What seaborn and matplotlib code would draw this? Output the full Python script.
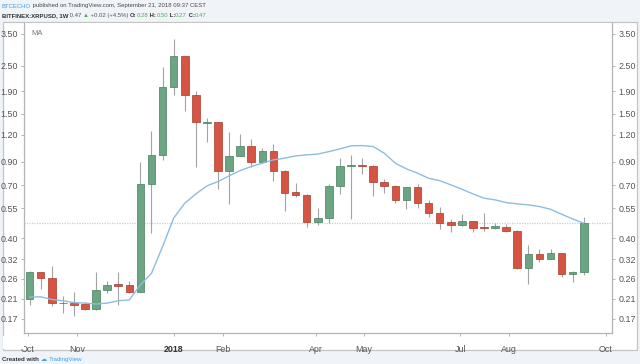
import matplotlib
matplotlib.use("Agg")
import matplotlib.pyplot as plt
from matplotlib.patches import Rectangle
import seaborn as sns
import pandas as pd

# ---------------- data ----------------
week_start = "2017-10-02"
n_weeks = 51
opens = [0.209, 0.279, 0.263, 0.202, 0.201, 0.199, 0.188, 0.231, 0.246, 0.243,
         0.227, 0.710, 0.969, 1.98, 2.78, 1.83, 1.365, 1.375, 0.817, 0.958,
         1.069, 0.896, 1.008, 0.817, 0.652, 0.636, 0.477, 0.498, 0.697, 0.862,
         0.871, 0.865, 0.727, 0.699, 0.601, 0.687, 0.582, 0.525, 0.476, 0.461,
         0.479, 0.450, 0.447, 0.453, 0.434, 0.293, 0.339, 0.321, 0.341, 0.274, 0.28]
highs = [0.282, 0.281, 0.298, 0.217, 0.227, 0.203, 0.281, 0.254, 0.281, 0.254,
         0.902, 1.250, 2.47, 3.32, 2.80, 1.90, 1.44, 1.38, 1.233, 1.207,
         1.144, 1.040, 1.089, 0.822, 0.722, 0.640, 0.554, 0.710, 0.941, 0.969,
         0.935, 0.870, 0.751, 0.702, 0.690, 0.710, 0.601, 0.560, 0.491, 0.518,
         0.482, 0.525, 0.469, 0.464, 0.436, 0.373, 0.357, 0.357, 0.343, 0.284, 0.50]
lows = [0.197, 0.234, 0.195, 0.181, 0.175, 0.186, 0.187, 0.224, 0.197, 0.224,
        0.226, 0.423, 0.919, 1.82, 1.545, 0.856, 1.108, 0.675, 0.576, 0.955,
        0.856, 0.890, 0.735, 0.536, 0.618, 0.453, 0.461, 0.472, 0.638, 0.491,
        0.789, 0.629, 0.649, 0.580, 0.546, 0.554, 0.503, 0.440, 0.426, 0.457,
        0.426, 0.432, 0.442, 0.429, 0.288, 0.246, 0.310, 0.320, 0.266, 0.252, 0.27]
closes = [0.281, 0.263, 0.201, 0.201, 0.198, 0.188, 0.231, 0.244, 0.242, 0.226,
          0.712, 0.969, 1.98, 2.78, 1.82, 1.37, 1.38, 0.817, 0.958, 1.069,
          0.902, 1.008, 0.817, 0.649, 0.632, 0.477, 0.498, 0.697, 0.865, 0.871,
          0.862, 0.727, 0.699, 0.601, 0.687, 0.580, 0.523, 0.472, 0.461, 0.479,
          0.445, 0.445, 0.454, 0.432, 0.291, 0.339, 0.320, 0.341, 0.274, 0.280, 0.47]
ma_values = [0.214, 0.215, 0.209, 0.206, 0.202, 0.201, 0.199, 0.201, 0.206, 0.208,
             0.244, 0.276, 0.366, 0.495, 0.580, 0.640, 0.697, 0.730, 0.775, 0.820,
             0.856, 0.887, 0.919, 0.935, 0.958, 0.969, 0.977, 1.003, 1.032, 1.066,
             1.069, 1.058, 0.986, 0.887, 0.835, 0.798, 0.756, 0.737, 0.705, 0.673,
             0.640, 0.612, 0.601, 0.584, 0.576, 0.570, 0.560, 0.544, 0.516, 0.491, 0.469]
last_close = 0.47

y_ticks = [3.50, 2.50, 1.90, 1.50, 1.20, 0.90, 0.70, 0.55, 0.40, 0.32, 0.26, 0.21, 0.17]
x_tick_dates = ["2017-10-01", "2017-11-01", "2018-01-01", "2018-02-01", "2018-04-01",
                "2018-05-01", "2018-07-01", "2018-08-01", "2018-10-01"]
x_tick_labels = ["Oct", "Nov", "2018", "Feb", "Apr", "May", "Jul", "Aug", "Oct"]

dates = pd.date_range(week_start, periods=n_weeks, freq="W-MON")
df = pd.DataFrame({"date": dates, "open": opens, "high": highs, "low": lows,
                   "close": closes, "ma": ma_values})

# ---------------- style ----------------
sns.set_style("white")
plt.rcParams["font.family"] = ["Liberation Sans", "DejaVu Sans"]

W, H = 640, 364
BG = "#f0f3f8"
UP, DOWN = "#6ba583", "#d75442"
UP_EDGE, DOWN_EDGE = "#477d5e", "#a33b2e"
WICK = "#a3a3a3"
AXC = "#b4b4b4"
TXT = "#555555"

fig = plt.figure(figsize=(W / 100, H / 100), dpi=100, facecolor=BG)

def fx(px):
    return px / W

def fy(py):
    return 1 - py / H

# chart box (behind axes)
fig.patches.append(Rectangle((fx(2.7), fy(350)), fx(637) - fx(2.7), fy(22) - fy(350),
                             transform=fig.transFigure, facecolor="white",
                             edgecolor="#c4c4c4", lw=0.9, zorder=-10))

L, R, T, B = 24.3, 612, 22.5, 333.3
ax = fig.add_axes([fx(L), fy(B), fx(R) - fx(L), fy(T) - fy(B)])
ax.set_zorder(5)
ax.set_facecolor("white")

# candles
for _, r in df.iterrows():
    up = r["close"] >= r["open"]
    ax.vlines(r["date"], r["low"], r["high"], color=WICK, lw=0.8, zorder=2)
    lo, hi = min(r["open"], r["close"]), max(r["open"], r["close"])
    if hi / lo < 1.006:
        hi = lo * 1.006
    ax.bar(r["date"], hi - lo, bottom=lo, width=4.8,
           color=UP if up else DOWN, edgecolor=UP_EDGE if up else DOWN_EDGE,
           linewidth=0.5, zorder=3)

sns.lineplot(data=df, x="date", y="ma", ax=ax, color="#8dbde0", lw=1.0, zorder=4)
ax.axhline(last_close, color="#b3dacb", lw=0.9, ls=(0, (1, 1)), zorder=1)

ax.set_yscale("log")
ax.set_ylim(0.1459, 3.946)
ax.set_xlim(pd.Timestamp("2017-09-28 16:00"), pd.Timestamp("2018-10-04 20:00"))
ax.set_yticks(y_ticks)
ax.set_yticklabels([f"{v:.2f}" for v in y_ticks])
ax.yaxis.set_minor_locator(matplotlib.ticker.NullLocator())
ax.set_xticks(pd.to_datetime(x_tick_dates))
ax.set_xticklabels(x_tick_labels)
ax.set_xlabel("")
ax.set_ylabel("")
ax.tick_params(axis="y", which="both", left=True, right=True, labelleft=True,
               labelright=True, length=2.5, width=0.7, color=AXC, labelsize=6.4,
               labelcolor=TXT, pad=2)
ax.tick_params(axis="x", bottom=True, length=2.5, width=0.7, color=AXC, labelsize=6.4,
               labelcolor=TXT, pad=6)
for lab in ax.get_xticklabels():
    if lab.get_text() == "2018":
        lab.set_fontweight("bold")
        lab.set_color("#333333")

for s in ["left", "right", "bottom"]:
    ax.spines[s].set_visible(True)
    ax.spines[s].set_color(AXC)
    ax.spines[s].set_linewidth(0.9)
ax.spines["top"].set_visible(False)

# mask the left part of the first "Oct" label, as in the source
fig.patches.append(Rectangle((fx(3.3), fy(349.4)), fx(24.0) - fx(3.3), fy(336) - fy(349.4),
                             transform=fig.transFigure, facecolor="white",
                             edgecolor="none", zorder=20))

ax.text(0.012, 0.975, "MA", transform=ax.transAxes, fontsize=5.5, color="#777777",
        va="top", ha="left")

# header pieces
renderer = fig.canvas.get_renderer()

def pieces(x, y, items, size):
    for txt, col, wt in items:
        t = fig.text(fx(x), fy(y), txt, color=col, fontsize=size, fontweight=wt,
                     va="center", ha="left")
        bb = t.get_window_extent(renderer)
        x += bb.width

pieces(1.7, 6, [("BTCECHO", "#3ea0e4", "normal"),
                (" published on TradingView.com, September 21, 2018 09:37 CEST", "#4a4a4a", "normal")], 4.35)
G = "#4cb050"
pieces(1.7, 15.5, [("BITFINEX:XRPUSD, 1W", "#333333", "bold"),
                   (" 0.47 ", "#555555", "normal"), ("▲", G, "normal"),
                   (" +0.02 (+4.5%) ", "#555555", "normal"),
                   ("O:", "#333333", "bold"), ("0.28", G, "normal"),
                   (" H:", "#333333", "bold"), ("0.50", G, "normal"),
                   (" L:", "#333333", "bold"), ("0.27", G, "normal"),
                   (" C:", "#333333", "bold"), ("0.47", G, "normal")], 4.35)
pieces(2.5, 359.5, [("Created with ", "#333333", "bold"), ("☁ ", "#3ea0e4", "normal"),
                    ("TradingView", "#3ea0e4", "normal")], 4.4)

fig.savefig("out.png", dpi=100, facecolor=BG)
